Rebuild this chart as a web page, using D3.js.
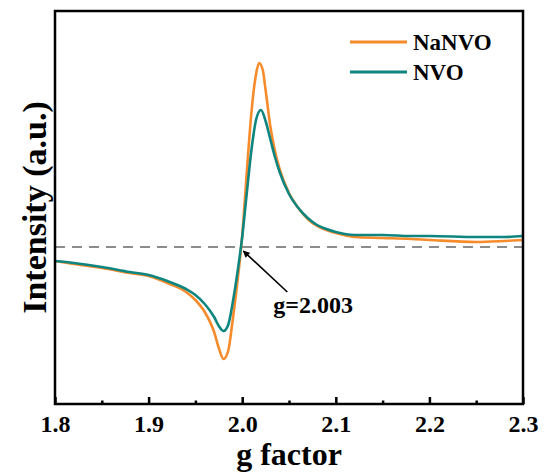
<!DOCTYPE html>
<html>
<head>
<meta charset="utf-8">
<script src="https://cdn.jsdelivr.net/npm/d3@7"></script>
<style>
  body { margin: 0; background: #fff; }
  svg { display: block; }
</style>
</head>
<body>
<div id="chart"></div>
<script>
// g factor samples shared by both spectra
var gValues = [1.80, 1.82, 1.85, 1.88, 1.90, 1.92, 1.94, 1.95, 1.96, 1.97, 1.975, 1.98, 1.985, 1.99, 1.995,
               2.00, 2.005, 2.01, 2.015, 2.018, 2.022, 2.025, 2.03, 2.035, 2.04, 2.05, 2.06, 2.07, 2.08,
               2.09, 2.10, 2.12, 2.15, 2.18, 2.20, 2.25, 2.28, 2.30];
var naNVO = [-0.14, -0.17, -0.21, -0.26, -0.29, -0.36, -0.45, -0.53, -0.65, -0.85, -1.01, -1.12, -1.04, -0.72, -0.34,
             0.11, 0.76, 1.36, 1.74, 1.84, 1.77, 1.57, 1.21, 0.96, 0.78, 0.54, 0.39, 0.28, 0.21,
             0.17, 0.14, 0.10, 0.09, 0.08, 0.07, 0.05, 0.06, 0.07];
var nvoG = [1.80, 1.82, 1.85, 1.88, 1.90, 1.92, 1.94, 1.95, 1.96, 1.97, 1.975, 1.98, 1.985, 1.99, 1.995,
            2.00, 2.005, 2.01, 2.015, 2.02, 2.025, 2.03, 2.035, 2.04, 2.05, 2.06, 2.07, 2.08,
            2.09, 2.10, 2.12, 2.15, 2.18, 2.20, 2.25, 2.28, 2.30];
var nvo = [-0.14, -0.16, -0.20, -0.25, -0.28, -0.34, -0.42, -0.48, -0.57, -0.70, -0.79, -0.84, -0.78, -0.55, -0.25,
           0.10, 0.55, 0.98, 1.28, 1.37, 1.26, 1.08, 0.90, 0.75, 0.53, 0.39, 0.29, 0.22,
           0.18, 0.15, 0.12, 0.12, 0.11, 0.11, 0.10, 0.10, 0.11];
var xTicks = [1.8, 1.9, 2.0, 2.1, 2.2, 2.3];
var xMinorTicks = [1.85, 1.95, 2.05, 2.15, 2.25];
var seriesNames = ["NaNVO", "NVO"];
var seriesColors = ["#f68b2c", "#0f8580"];
var crossing = {g: 1.998, label: "g=2.003"};

var width = 544, height = 475;
var margin = {top: 11, right: 21, bottom: 71, left: 55};
var plotW = width - margin.left - margin.right,
    plotH = height - margin.top - margin.bottom;
var font = "'Liberation Serif', 'Times New Roman', serif";

var svg = d3.select("#chart").append("svg")
    .attr("width", width)
    .attr("height", height);

var plot = svg.append("g")
    .attr("transform", "translate(" + margin.left + "," + margin.top + ")");

var x = d3.scaleLinear().domain([1.8, 2.3]).range([0, plotW]);
var y = d3.scaleLinear().domain([-1.57, 2.36]).range([plotH, 0]);

// baseline
plot.append("line")
    .attr("x1", 0).attr("x2", plotW)
    .attr("y1", y(0)).attr("y2", y(0))
    .attr("stroke", "#8c8c8c")
    .attr("stroke-width", 2)
    .attr("stroke-dasharray", "10,7");

var line = d3.line()
    .x(function(d) { return x(d[0]); })
    .y(function(d) { return y(d[1]); })
    .curve(d3.curveMonotoneX);

var series = [
  d3.zip(gValues, naNVO),
  d3.zip(nvoG, nvo)
];

series.forEach(function(s, i) {
  plot.append("path")
      .datum(s)
      .attr("d", line)
      .attr("fill", "none")
      .attr("stroke", seriesColors[i])
      .attr("stroke-width", 2.6)
      .attr("stroke-linejoin", "round");
});

// bottom axis, ticks inward
var xAxis = plot.append("g")
    .attr("transform", "translate(0," + plotH + ")")
    .call(d3.axisBottom(x).tickValues(xTicks).tickSize(-7).tickPadding(11)
      .tickFormat(d3.format(".1f")));
xAxis.select(".domain").remove();
xAxis.selectAll("line").attr("stroke", "#000").attr("stroke-width", 2.5);
xAxis.selectAll("text")
    .style("font-family", font)
    .style("font-weight", "bold")
    .style("font-size", "24px")
    .attr("fill", "#000");

var minor = plot.append("g")
    .attr("transform", "translate(0," + plotH + ")")
    .call(d3.axisBottom(x).tickValues(xMinorTicks).tickSize(-3.5).tickFormat(""));
minor.select(".domain").remove();
minor.selectAll("line").attr("stroke", "#000").attr("stroke-width", 2.5);

// frame
plot.append("rect")
    .attr("width", plotW).attr("height", plotH)
    .attr("fill", "none")
    .attr("stroke", "#000")
    .attr("stroke-width", 2.5);

// axis titles
svg.append("text")
    .attr("x", margin.left + plotW / 2)
    .attr("y", 465)
    .attr("text-anchor", "middle")
    .style("font-family", font)
    .style("font-weight", "bold")
    .style("font-size", "32px")
    .text("g factor");

svg.append("text")
    .attr("transform", "translate(46," + (margin.top + plotH / 2) + ") rotate(-90)")
    .attr("text-anchor", "middle")
    .style("font-family", font)
    .style("font-weight", "bold")
    .style("font-size", "34px")
    .text("Intensity (a.u.)");

// legend
var legend = plot.append("g").attr("transform", "translate(295,31)");
seriesNames.forEach(function(name, i) {
  var row = legend.append("g").attr("transform", "translate(0," + (i * 30) + ")");
  row.append("line")
      .attr("x1", 0).attr("x2", 57)
      .attr("stroke", seriesColors[i])
      .attr("stroke-width", 3);
  row.append("text")
      .attr("x", 63).attr("y", 8)
      .style("font-family", font)
      .style("font-weight", "bold")
      .style("font-size", "23px")
      .text(name);
});

// annotation arrow
svg.append("defs").append("marker")
    .attr("id", "arrow")
    .attr("viewBox", "0 0 10 10")
    .attr("refX", 9).attr("refY", 5)
    .attr("markerWidth", 7).attr("markerHeight", 7)
    .attr("markerUnits", "userSpaceOnUse")
    .attr("orient", "auto")
  .append("path")
    .attr("d", "M0,0 L10,5 L0,10 z")
    .attr("fill", "#000");

var tipX = x(crossing.g) + 3, tipY = y(0) + 4;
plot.append("line")
    .attr("x1", tipX + 44).attr("y1", tipY + 41)
    .attr("x2", tipX).attr("y2", tipY)
    .attr("stroke", "#000")
    .attr("stroke-width", 1.6)
    .attr("marker-end", "url(#arrow)");

plot.append("text")
    .attr("x", tipX + 30).attr("y", tipY + 62)
    .style("font-family", font)
    .style("font-weight", "bold")
    .style("font-size", "24px")
    .text(crossing.label);
</script>
</body>
</html>
